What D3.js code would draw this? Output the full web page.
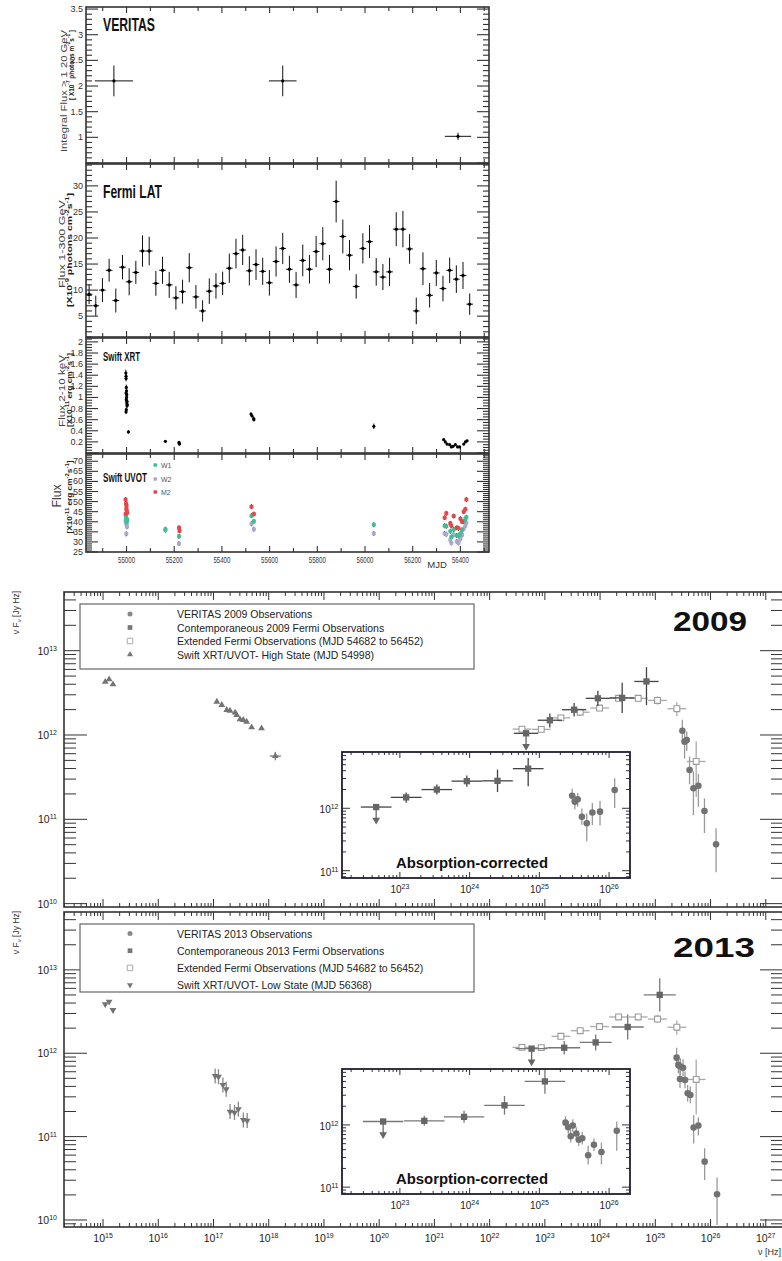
<!DOCTYPE html>
<html>
<head>
<meta charset="utf-8">
<script src="https://cdn.jsdelivr.net/npm/d3@7"></script>
<style>
  body { margin: 0; background: #fff; }
  svg { display: block; font-family: "Liberation Sans", Arial, sans-serif; }
  .narrow { font-family: "Liberation Sans Narrow", "Liberation Sans", sans-serif; }
</style>
</head>
<body>
<svg id="chart" width="782" height="1261"></svg>
<script>
// ---------------- light curve data (MJD) ----------------
const veritasLcMJD = [54947, 55655, 56390];
const veritasLcMJDErr = [80, 58, 55];
const veritasLcFlux = [2.1, 2.1, 1.02];
const veritasLcErr = [0.3, 0.3, 0.07];

const fermiLcMJD = [54843, 54871, 54899, 54927, 54955, 54983, 55011, 55039, 55067, 55095,
  55123, 55151, 55179, 55207, 55235, 55263, 55291, 55319, 55347, 55375,
  55403, 55431, 55459, 55487, 55515, 55543, 55571, 55599, 55627, 55655,
  55683, 55711, 55739, 55767, 55795, 55823, 55851, 55879, 55907, 55935,
  55963, 55991, 56019, 56047, 56075, 56103, 56131, 56159, 56187, 56215,
  56243, 56271, 56299, 56327, 56355, 56383, 56411, 56439];
const fermiLcFlux = [9.2, 7.0, 10.0, 13.8, 8.0, 14.4, 11.6, 13.4, 17.5, 17.5,
  11.3, 13.8, 11.0, 8.5, 9.7, 14.3, 8.7, 6.0, 9.8, 10.8,
  11.3, 14.2, 17.0, 17.7, 13.7, 14.9, 13.6, 11.4, 15.5, 18.0,
  14.0, 11.0, 15.7, 14.0, 17.4, 18.9, 14.0, 27.0, 20.3, 16.7,
  10.7, 18.0, 19.3, 13.5, 12.5, 13.5, 21.7, 21.7, 17.9, 6.0,
  14.1, 9.0, 13.3, 10.3, 13.8, 12.1, 12.8, 7.3];
const fermiLcErr = [1.9, 1.95, 2.3, 2.2, 2.3, 2.35, 2.6, 2.2, 3.0, 2.75,
  2.4, 2.6, 2.5, 2.25, 2.3, 2.8, 2.25, 2.05, 2.45, 2.45,
  2.25, 2.8, 2.85, 2.9, 2.8, 2.95, 2.6, 2.45, 2.9, 3.0,
  2.6, 2.5, 3.05, 2.75, 3.0, 3.2, 2.75, 4.0, 3.25, 2.9,
  2.35, 2.9, 3.15, 2.65, 2.5, 2.7, 3.25, 3.5, 2.85, 2.55,
  3.15, 2.35, 2.5, 2.45, 2.45, 2.65, 2.6, 2.05];
const fermiLcBinHalf = 14;

// [MJD, flux, err]
const xrtPoints = [
  [54997, 1.44, 0.06], [54998, 1.38, 0.06], [54998, 1.34, 0.05], [54999, 1.18, 0.05],
  [55000, 1.12, 0.05], [54998, 1.08, 0.05], [55001, 1.05, 0.05], [55000, 1.0, 0.05],
  [54999, 0.96, 0.05], [55002, 0.93, 0.04], [55001, 0.9, 0.04], [55003, 0.87, 0.04],
  [55002, 0.85, 0.04], [54999, 0.78, 0.04], [54998, 0.74, 0.04], [55008, 0.38, 0.03],
  [55163, 0.21, 0.02], [55220, 0.19, 0.02], [55222, 0.16, 0.02], [55221, 0.17, 0.02],
  [55522, 0.70, 0.03], [55526, 0.67, 0.03], [55533, 0.62, 0.04], [55534, 0.60, 0.03],
  [56037, 0.48, 0.05],
  [56330, 0.24, 0.02], [56337, 0.20, 0.02], [56344, 0.16, 0.02], [56355, 0.15, 0.02],
  [56362, 0.11, 0.02], [56369, 0.12, 0.02], [56379, 0.15, 0.02], [56388, 0.11, 0.02],
  [56397, 0.11, 0.02], [56414, 0.16, 0.02], [56421, 0.20, 0.02], [56428, 0.22, 0.02]
];

// [MJD, flux]
const uvotW1 = [
  [54996, 43.5], [54998, 42.5], [55000, 41.5], [54999, 40.5], [55001, 39.8], [55003, 41.0],
  [55163, 36.3], [55220, 32.8], [55524, 43.0], [55534, 40.2], [56037, 38.5],
  [56334, 38.0], [56341, 37.8], [56358, 35.3], [56362, 32.5], [56372, 36.2], [56385, 33.2],
  [56392, 33.0], [56400, 34.0], [56407, 36.0], [56414, 40.0], [56421, 41.5], [56425, 42.2]
];
const uvotW2 = [
  [54996, 40.5], [54998, 39.5], [55000, 38.5], [55002, 37.5], [54999, 34.0], [55001, 40.8],
  [55163, 35.8], [55220, 29.2], [55524, 39.0], [55534, 36.3], [56037, 34.2],
  [56334, 34.2], [56341, 33.8], [56358, 31.0], [56362, 29.5], [56372, 33.5], [56385, 30.2],
  [56392, 29.5], [56400, 31.5], [56407, 33.5], [56414, 36.5], [56421, 38.0], [56425, 39.5]
];
const uvotM2 = [
  [54996, 51.0], [54998, 49.0], [55000, 48.0], [54999, 46.5], [55001, 45.5], [55003, 44.5], [54997, 44.0],
  [55220, 37.0], [55222, 35.5], [55524, 47.5], [55534, 43.8],
  [56334, 42.0], [56341, 44.2], [56358, 39.2], [56362, 38.0], [56372, 42.8], [56385, 37.0],
  [56392, 36.8], [56400, 41.5], [56407, 40.0], [56414, 45.0], [56421, 46.2], [56425, 51.0]
];
const uvotErr = 1.2;

const mjdTickLabels = [55000, 55200, 55400, 55600, 55800, 56000, 56200, 56400];

// ---------------- SED data (log10 nu [Hz], log10 nuFnu [Jy Hz]) ----------------
const uvot09Nu = [15.04, 15.11, 15.18];
const uvot09F = [12.63, 12.66, 12.60];
const xrt09Nu = [17.06, 17.15, 17.24, 17.30, 17.39, 17.42, 17.48, 17.54, 17.60, 17.69, 17.87];
const xrt09F = [12.395, 12.356, 12.297, 12.288, 12.265, 12.237, 12.186, 12.178, 12.158, 12.091, 12.079];
const hardX09Nu = [18.12];
const hardX09F = [11.75];

const fermi09Nu = [22.66, 23.09, 23.53, 23.96, 24.40, 24.84];
const fermi09F = [12.02, 12.175, 12.30, 12.435, 12.44, 12.635];
const fermi09Hi = [0, 0.08, 0.08, 0.09, 0.18, 0.17];
const fermi09Lo = [0, 0.085, 0.08, 0.09, 0.18, 0.28];
const fermi09UL = [true, false, false, false, false, false];

const fermiExtNu = [22.585, 22.935, 23.29, 23.64, 23.99, 24.335, 24.69, 25.04, 25.39, 25.74];
const fermiExtF = [12.07, 12.067, 12.203, 12.27, 12.32, 12.435, 12.435, 12.41, 12.312, 11.686];
const fermiExtHi = [0.02, 0.02, 0.02, 0.02, 0.03, 0.03, 0.04, 0.05, 0.08, 0.24];
const fermiExtLo = [0.02, 0.02, 0.02, 0.02, 0.03, 0.03, 0.04, 0.05, 0.09, 0.42];

const veritas09Nu = [25.49, 25.53, 25.57, 25.62, 25.69, 25.78, 25.89, 26.10];
const veritas09F = [12.051, 11.921, 11.941, 11.585, 11.368, 11.399, 11.098, 10.703];
const veritas09Hi = [0.13, 0.1, 0.1, 0.16, 0.2, 0.14, 0.15, 0.19];
const veritas09Lo = [0.13, 0.2, 0.13, 0.17, 0.32, 0.25, 0.26, 0.33];

const veritas09CorrNu = [25.47, 25.51, 25.55, 25.61, 25.68, 25.76, 25.87, 26.08];
const veritas09CorrF = [12.202, 12.106, 12.144, 11.865, 11.76, 11.933, 11.946, 12.293];
const veritas09CorrHi = [0.11, 0.1, 0.1, 0.13, 0.16, 0.15, 0.17, 0.19];
const veritas09CorrLo = [0.11, 0.12, 0.12, 0.13, 0.29, 0.2, 0.22, 0.29];

const uvot13Nu = [15.04, 15.11, 15.18];
const uvot13F = [12.588, 12.619, 12.519];
const xrt13Nu = [17.03, 17.09, 17.17, 17.23, 17.30, 17.38, 17.45, 17.54, 17.61];
const xrt13F = [11.728, 11.719, 11.62, 11.568, 11.30, 11.288, 11.329, 11.2, 11.192];

const fermi13Nu = [22.76, 23.35, 23.92, 24.50, 25.08];
const fermi13F = [12.055, 12.066, 12.13, 12.315, 12.70];
const fermi13Hi = [0, 0.08, 0.096, 0.15, 0.2];
const fermi13Lo = [0, 0.08, 0.096, 0.15, 0.2];
const fermi13UL = [true, false, false, false, false];

const veritas13Nu = [25.386, 25.417, 25.453, 25.502, 25.447, 25.538, 25.585, 25.634, 25.694, 25.779, 25.893, 26.118];
const veritas13F = [11.947, 11.86, 11.84, 11.827, 11.692, 11.68, 11.52, 11.5, 11.108, 11.132, 10.70, 10.309];
const veritas13Hi = [0.12, 0.1, 0.1, 0.1, 0.11, 0.1, 0.1, 0.1, 0.15, 0.1, 0.16, 0.2];
const veritas13Lo = [0.12, 0.1, 0.1, 0.1, 0.11, 0.1, 0.1, 0.1, 0.19, 0.12, 0.22, 0.37];

const veritas13CorrNu = [25.375, 25.415, 25.48, 25.45, 25.53, 25.565, 25.615, 25.70, 25.783, 25.89, 26.11];
const veritas13CorrF = [12.037, 11.962, 11.99, 11.818, 11.862, 11.762, 11.785, 11.514, 11.681, 11.565, 11.905];
const veritas13CorrHi = [0.1, 0.1, 0.1, 0.1, 0.1, 0.1, 0.1, 0.15, 0.1, 0.15, 0.15];
const veritas13CorrLo = [0.1, 0.1, 0.1, 0.1, 0.1, 0.1, 0.1, 0.15, 0.1, 0.2, 0.32];

const legend09 = ["VERITAS 2009 Observations", "Contemporaneous 2009 Fermi Observations",
  "Extended Fermi Observations (MJD 54682 to 56452)", "Swift XRT/UVOT- High State (MJD 54998)"];
const legend13 = ["VERITAS 2013 Observations", "Contemporaneous 2013 Fermi Observations",
  "Extended Fermi Observations (MJD 54682 to 56452)", "Swift XRT/UVOT- Low State (MJD 56368)"];

// ---------------- helpers ----------------
const svg = d3.select("#chart");

// text with ^{sup} and _{sub} parts
function rich(t, str, small) {
  const parts = str.split(/(\^\{[^}]*\}|_\{[^}]*\})/).filter(p => p !== "");
  let shift = 0;
  parts.forEach(p => {
    let target = 0, txt = p, size = null;
    if (p.startsWith("^{")) { target = -small * 0.55; txt = p.slice(2, -1); size = small; }
    else if (p.startsWith("_{")) { target = small * 0.35; txt = p.slice(2, -1); size = small; }
    const ts = t.append("tspan").attr("dy", target - shift).text(txt);
    if (size) ts.attr("font-size", size);
    shift = target;
  });
  return t;
}

// squeeze a text horizontally to a given width (condensed look)
function squeeze(t, x, y, w, extra) {
  const n = t.node().getComputedTextLength();
  t.attr("x", 0).attr("y", 0)
    .attr("transform", `translate(${x},${y})${extra || ""} scale(${w / n},1)`);
}

function stepVals(lo, hi, step) {
  return d3.range(Math.ceil(lo / step - 1e-6), Math.floor(hi / step + 1e-6) + 1)
    .map(i => +(i * step).toFixed(6));
}

// ---------------- light curves ----------------
const xMJD = d3.scaleLinear().domain([54830, 56520]).range([86, 489]);

const lcPanels = [
  {top: 7, bottom: 163, domain: [0.5, 3.54], major: 0.5, minor: 0.1, labels: [1, 1.5, 2, 2.5, 3, 3.5]},
  {top: 164, bottom: 337, domain: [1, 34.2], major: 5, minor: 1, labels: [5, 10, 15, 20, 25, 30]},
  {top: 338, bottom: 453, domain: [0, 2.07], major: 0.2, minor: 0.05, labels: stepVals(0.2, 2, 0.2)},
  {top: 454, bottom: 552, domain: [25, 73.6], major: 5, minor: 1, labels: stepVals(25, 70, 5)}
];
lcPanels.forEach(p => { p.y = d3.scaleLinear().domain(p.domain).range([p.bottom, p.top]); });

lcPanels.forEach(p => {
  const g = svg.append("g");
  const [x0, x1] = xMJD.range();
  const tk = g.append("g").attr("stroke", "#333").attr("stroke-width", 1.1);
  stepVals(p.domain[0], p.domain[1], p.minor).forEach(v => {
    const isMajor = Math.abs(v / p.major - Math.round(v / p.major)) < 1e-6;
    const len = isMajor ? 12 : 6;
    tk.append("line").attr("x1", x0).attr("x2", x0 + len).attr("y1", p.y(v)).attr("y2", p.y(v));
    tk.append("line").attr("x1", x1).attr("x2", x1 - len).attr("y1", p.y(v)).attr("y2", p.y(v));
  });
  stepVals(54830, 56520, 100).forEach(v => {
    const len = v % 200 === 0 ? 6 : 4;
    tk.append("line").attr("x1", xMJD(v)).attr("x2", xMJD(v)).attr("y1", p.bottom).attr("y2", p.bottom - len);
    tk.append("line").attr("x1", xMJD(v)).attr("x2", xMJD(v)).attr("y1", p.top).attr("y2", p.top + len);
  });
  g.append("rect").attr("x", x0).attr("y", p.top).attr("width", x1 - x0).attr("height", p.bottom - p.top)
    .attr("fill", "none").attr("stroke", "#333").attr("stroke-width", 1.6);
  g.append("g").attr("class", "narrow").attr("font-size", 9).attr("fill", "#333")
    .selectAll("text").data(p.labels).join("text")
    .attr("x", 83).attr("y", d => p.y(d) + 3).attr("text-anchor", "end")
    .text(d => d3.format("~g")(d));
});

// y titles of light curves
const lcTitles = [
  {x: 66.5, yc: 91, len: 122, text: "Integral Flux > 1 20 GeV", x2: 73.5, yc2: 65, len2: 70, text2: "[ X10^{-7} photons m^{-2}s^{-1} ]"},
  {x: 65, yc: 244, len: 88, text: "Flux 1-300 GeV", x2: 72, yc2: 250, len2: 114, text2: "[X10^{-9} photons cm^{-2}s^{-1}]"},
  {x: 65, yc: 391, len: 72, text: "Flux 2-10 keV", x2: 72, yc2: 390, len2: 74, text2: "[X10^{-11} erg cm^{-2}s^{-1}]"},
  {x: 61, yc: 496, len: 23, text: "Flux", x2: 72, yc2: 497, len2: 73, text2: "[X10^{-11} erg cm^{-2}s^{-1}]", big: true}
];
lcTitles.forEach(t => {
  const a = svg.append("text").attr("transform", `translate(${t.x},${t.yc}) rotate(-90)`)
    .attr("text-anchor", "middle").attr("font-size", t.big ? 13 : 9.5).attr("fill", "#444")
    .attr("textLength", t.len).attr("lengthAdjust", "spacingAndGlyphs");
  a.text(t.text);
  const b = svg.append("text").attr("transform", `translate(${t.x2},${t.yc2}) rotate(-90)`)
    .attr("text-anchor", "middle").attr("font-size", 7.5).attr("font-weight", "bold").attr("fill", "#222")
    .attr("textLength", t.len2).attr("lengthAdjust", "spacingAndGlyphs");
  rich(b, t.text2, 5.5);
});

// panel names
[["VERITAS", 31, 18, 52], ["Fermi LAT", 198, 18, 59], ["Swift XRT", 361, 13.5, 37], ["Swift UVOT", 482, 13.5, 44]]
  .forEach(([txt, yb, fs, len]) => {
    const t = svg.append("text").attr("class", "narrow")
      .attr("font-size", fs).attr("font-weight", "bold").attr("fill", "#111").text(txt);
    squeeze(t, 103, yb, len);
  });

// VERITAS light curve
{
  const p = lcPanels[0];
  const pts = veritasLcMJD.map((m, i) => ({m, ex: veritasLcMJDErr[i], f: veritasLcFlux[i], e: veritasLcErr[i]}));
  const g = svg.append("g").attr("stroke", "#111").attr("stroke-width", 1);
  g.selectAll(".ex").data(pts).join("line").attr("class", "ex")
    .attr("x1", d => xMJD(d.m - d.ex)).attr("x2", d => xMJD(d.m + d.ex))
    .attr("y1", d => p.y(d.f)).attr("y2", d => p.y(d.f));
  g.selectAll(".ey").data(pts).join("line").attr("class", "ey")
    .attr("x1", d => xMJD(d.m)).attr("x2", d => xMJD(d.m))
    .attr("y1", d => p.y(d.f - d.e)).attr("y2", d => p.y(d.f + d.e));
  svg.append("g").selectAll("circle").data(pts).join("circle")
    .attr("cx", d => xMJD(d.m)).attr("cy", d => p.y(d.f)).attr("r", 1.6).attr("fill", "#000");
}

// Fermi light curve
{
  const p = lcPanels[1];
  const pts = fermiLcMJD.map((m, i) => ({m, f: fermiLcFlux[i], e: fermiLcErr[i]}));
  const g = svg.append("g").attr("stroke", "#111").attr("stroke-width", 1);
  g.selectAll(".ex").data(pts).join("line").attr("class", "ex")
    .attr("x1", d => xMJD(d.m - fermiLcBinHalf)).attr("x2", d => xMJD(d.m + fermiLcBinHalf))
    .attr("y1", d => p.y(d.f)).attr("y2", d => p.y(d.f));
  g.selectAll(".ey").data(pts).join("line").attr("class", "ey")
    .attr("x1", d => xMJD(d.m)).attr("x2", d => xMJD(d.m))
    .attr("y1", d => p.y(d.f - d.e)).attr("y2", d => p.y(d.f + d.e));
  svg.append("g").selectAll("circle").data(pts).join("circle")
    .attr("cx", d => xMJD(d.m)).attr("cy", d => p.y(d.f)).attr("r", 1.7).attr("fill", "#000");
}

// Swift XRT light curve
{
  const p = lcPanels[2];
  const g = svg.append("g").attr("stroke", "#111").attr("stroke-width", 1);
  g.selectAll("line").data(xrtPoints).join("line")
    .attr("x1", d => xMJD(d[0])).attr("x2", d => xMJD(d[0]))
    .attr("y1", d => p.y(d[1] - d[2])).attr("y2", d => p.y(d[1] + d[2]));
  svg.append("g").selectAll("circle").data(xrtPoints).join("circle")
    .attr("cx", d => xMJD(d[0])).attr("cy", d => p.y(d[1])).attr("r", 1.6).attr("fill", "#000");
}

// Swift UVOT light curve
{
  const p = lcPanels[3];
  const series = [
    {data: uvotW2, color: "#a9a9cf"},
    {data: uvotW1, color: "#3fbf93"},
    {data: uvotM2, color: "#e4474b"}
  ];
  series.forEach(s => {
    svg.append("g").attr("stroke", "#111").attr("stroke-width", 1)
      .selectAll("line").data(s.data).join("line")
      .attr("x1", d => xMJD(d[0])).attr("x2", d => xMJD(d[0]))
      .attr("y1", d => p.y(d[1] - uvotErr)).attr("y2", d => p.y(d[1] + uvotErr));
  });
  series.forEach(s => {
    svg.append("g").selectAll("rect").data(s.data).join("rect")
      .attr("x", d => xMJD(d[0]) - 2).attr("y", d => p.y(d[1]) - 2)
      .attr("width", 4).attr("height", 4).attr("rx", 1.2).attr("fill", s.color);
  });
  const leg = [["W1", "#3fbf93", 465], ["W2", "#a9a9cf", 479], ["M2", "#e4474b", 492]];
  leg.forEach(([n, c, yy]) => {
    svg.append("rect").attr("x", 153.5).attr("y", yy - 1.8).attr("width", 3.6).attr("height", 3.6)
      .attr("rx", 1).attr("fill", c);
    svg.append("text").attr("class", "narrow").attr("x", 161).attr("y", yy + 2.5)
      .attr("font-size", 7).attr("fill", "#555").text(n);
  });
  svg.append("g").attr("class", "narrow").attr("font-size", 9.5).attr("fill", "#333")
    .selectAll("text").data(mjdTickLabels).join("text")
    .attr("x", d => xMJD(d)).attr("y", 563).attr("text-anchor", "middle")
    .attr("textLength", 17).attr("lengthAdjust", "spacingAndGlyphs").text(d => d);
  svg.append("text").attr("class", "narrow").attr("x", 437).attr("y", 568)
    .attr("text-anchor", "middle").attr("font-size", 9.5).attr("fill", "#333").text("MJD");
}

// ---------------- SED panels ----------------
function logTickVals(lo, hi) {
  const major = [], minor = [];
  for (let d = Math.floor(lo); d <= Math.ceil(hi); d++) {
    if (d >= lo && d <= hi) major.push(d);
    for (let k = 2; k <= 9; k++) {
      const v = d + Math.log10(k);
      if (v >= lo && v <= hi) minor.push(v);
    }
  }
  return {major, minor};
}

function logFrame(g, x, y, o) {
  const [x0, x1] = x.range(), [yb, yt] = y.range();
  const xd = x.domain().map(Math.log10), yd = y.domain().map(Math.log10);
  const xt = logTickVals(xd[0], xd[1]), ytk = logTickVals(yd[0], yd[1]);
  const tk = g.append("g").attr("stroke", "#333").attr("stroke-width", 1);
  [[xt.major, o.xMaj], [xt.minor, o.xMin]].forEach(([vals, len]) => {
    vals.forEach(v => {
      const px = x(10 ** v);
      tk.append("line").attr("x1", px).attr("x2", px).attr("y1", yb).attr("y2", yb - len);
      tk.append("line").attr("x1", px).attr("x2", px).attr("y1", yt).attr("y2", yt + len);
    });
  });
  [[ytk.major, o.yMaj], [ytk.minor, o.yMin]].forEach(([vals, len]) => {
    vals.forEach(v => {
      const py = y(10 ** v);
      tk.append("line").attr("x1", x0).attr("x2", x0 + len).attr("y1", py).attr("y2", py);
      tk.append("line").attr("x1", x1).attr("x2", x1 - len).attr("y1", py).attr("y2", py);
    });
  });
  g.append("rect").attr("x", x0).attr("y", yt).attr("width", x1 - x0).attr("height", yb - yt)
    .attr("fill", "none").attr("stroke", o.frame || "#333").attr("stroke-width", o.frameW || 1.6);
  ytk.major.forEach(v => {
    const t = g.append("text").attr("x", o.yLabX).attr("y", y(10 ** v) + o.yLabDy)
      .attr("text-anchor", "end").attr("font-size", o.labFs).attr("fill", "#222");
    rich(t, "10^{" + v + "}", o.supFs);
  });
  if (o.xLabY) {
    xt.major.forEach(v => {
      const t = g.append("text").attr("x", x(10 ** v)).attr("y", o.xLabY)
        .attr("text-anchor", "middle").attr("font-size", o.labFs).attr("fill", "#222");
      rich(t, "10^{" + v + "}", o.supFs);
    });
  }
}

function drawSeries(g, x, y, s) {
  const pts = s.nu.map((n, i) => ({
    n, f: s.f[i],
    ex: Array.isArray(s.nuErr) ? s.nuErr[i] : (s.nuErr || 0),
    hi: s.hi ? s.hi[i] : (s.err || 0), lo: s.lo ? s.lo[i] : (s.err || 0),
    ul: s.ul ? s.ul[i] : false
  }));
  const eg = g.append("g").attr("stroke", s.errColor).attr("stroke-width", 1.3);
  eg.selectAll(".ex").data(pts.filter(d => d.ex > 0)).join("line").attr("class", "ex")
    .attr("x1", d => x(10 ** (d.n - d.ex))).attr("x2", d => x(10 ** (d.n + d.ex)))
    .attr("y1", d => y(10 ** d.f)).attr("y2", d => y(10 ** d.f));
  eg.selectAll(".ey").data(pts.filter(d => d.hi + d.lo > 0)).join("line").attr("class", "ey")
    .attr("x1", d => x(10 ** d.n)).attr("x2", d => x(10 ** d.n))
    .attr("y1", d => y(10 ** (d.f - d.lo))).attr("y2", d => y(10 ** (d.f + d.hi)));
  const ul = pts.filter(d => d.ul);
  g.append("g").attr("stroke", s.fill).attr("stroke-width", 1.3)
    .selectAll("line").data(ul).join("line")
    .attr("x1", d => x(10 ** d.n)).attr("x2", d => x(10 ** d.n))
    .attr("y1", d => y(10 ** d.f)).attr("y2", d => y(10 ** d.f) + 13);
  g.append("g").selectAll("path").data(ul).join("path")
    .attr("transform", d => `translate(${x(10 ** d.n)},${y(10 ** d.f) + 13}) rotate(180)`)
    .attr("d", d3.symbol(d3.symbolTriangle, 26)).attr("fill", s.fill);
  g.append("g").selectAll("path").data(pts).join("path")
    .attr("transform", d => `translate(${x(10 ** d.n)},${y(10 ** d.f)})${s.down ? " rotate(180)" : ""}`)
    .attr("d", d3.symbol(s.symbol, s.size))
    .attr("fill", s.open ? "#fff" : s.fill)
    .attr("stroke", s.open ? s.fill : "none").attr("stroke-width", 1.1);
}

const sedX = d3.scaleLog().domain([10 ** 14.293, 10 ** 27.312]).range([64, 783]);
const insetX = d3.scaleLog().domain([10 ** 22.17, 10 ** 26.3]).range([342, 630]);

const colVer = "#727272", colFermi = "#666", colExt = "#9a9a9a", colSwift = "#747474";

function sedPanel(c) {
  const g = svg.append("g");
  const y = d3.scaleLog().domain([10 ** c.yLo, 10 ** c.yHi]).range([c.bottom, c.top]);
  logFrame(g, sedX, y, {xMaj: 8, xMin: 4, yMaj: 23, yMin: 12, yLabX: 57, yLabDy: 4,
    labFs: 10.5, supFs: 7, xLabY: c.xLabels ? 1242 : null});

  const yt = g.append("text").attr("transform", `translate(19,${c.top - 1}) rotate(-90)`)
    .attr("text-anchor", "end").attr("font-size", 8.5).attr("fill", "#333");
  rich(yt, "ν F_{ν} [Jy Hz]", 6);

  // legend
  const lg = g.append("g");
  lg.append("rect").attr("x", 80).attr("y", c.legTop).attr("width", 394).attr("height", c.legH)
    .attr("fill", "#fff").attr("stroke", "#666").attr("stroke-width", 1.2);
  const syms = [
    {symbol: d3.symbolCircle, size: 20, fill: "#888"},
    {symbol: d3.symbolSquare, size: 22, fill: "#777"},
    {symbol: d3.symbolSquare, size: 30, fill: "#aaa", open: true},
    {symbol: d3.symbolTriangle, size: 16, fill: "#777", down: c.down}
  ];
  c.legend.forEach((txt, i) => {
    const yy = c.legTop + c.legRow0 + i * c.legStep;
    const s = syms[i];
    lg.append("path").attr("transform", `translate(130,${yy})${s.down ? " rotate(180)" : ""}`)
      .attr("d", d3.symbol(s.symbol, s.size)).attr("fill", s.open ? "#fff" : s.fill)
      .attr("stroke", s.open ? s.fill : "none");
    lg.append("text").attr("x", 177).attr("y", yy + 4).attr("font-size", 10.5).attr("fill", "#222").text(txt);
  });

  const yr = g.append("text").attr("font-size", 28).attr("font-weight", "bold").attr("fill", "#111").text(c.year);
  squeeze(yr, c.yearX, c.yearY, c.yearLen);

  // data
  drawSeries(g, sedX, y, {nu: c.uvNu, f: c.uvF, symbol: d3.symbolTriangle, size: 20, fill: colSwift, down: c.down, errColor: "#888"});
  drawSeries(g, sedX, y, {nu: c.xNu, f: c.xF, symbol: d3.symbolTriangle, size: 20, fill: colSwift, down: c.down,
    errColor: "#888", err: c.xErr});
  if (c.hardNu) drawSeries(g, sedX, y, {nu: c.hardNu, f: c.hardF, nuErr: 0.1, err: 0.05,
    symbol: d3.symbolTriangle, size: 20, fill: colSwift, errColor: "#777"});
  drawSeries(g, sedX, y, {nu: fermiExtNu, f: fermiExtF, hi: fermiExtHi, lo: fermiExtLo, nuErr: 0.17,
    symbol: d3.symbolSquare, size: 34, fill: colExt, open: true, errColor: "#aaa"});
  drawSeries(g, sedX, y, {nu: c.fNu, f: c.fF, hi: c.fHi, lo: c.fLo, ul: c.fUL, nuErr: c.fNuErr,
    symbol: d3.symbolSquare, size: 40, fill: colFermi, errColor: c.fErrColor});
  drawSeries(g, sedX, y, {nu: c.vNu, f: c.vF, hi: c.vHi, lo: c.vLo,
    symbol: d3.symbolCircle, size: 34, fill: colVer, errColor: "#999"});

  // inset
  const ig = svg.append("g");
  const iy = d3.scaleLog().domain([10 ** c.inLo, 10 ** c.inHi]).range([c.inBottom, c.inTop]);
  ig.append("rect").attr("x", 342).attr("y", c.inTop).attr("width", 288).attr("height", c.inBottom - c.inTop)
    .attr("fill", "#fff");
  drawSeries(ig, insetX, iy, {nu: c.fNu, f: c.fF, hi: c.fHi, lo: c.fLo, ul: c.fUL, nuErr: c.fNuErr,
    symbol: d3.symbolSquare, size: 40, fill: colFermi, errColor: c.fErrColor});
  drawSeries(ig, insetX, iy, {nu: c.cNu, f: c.cF, hi: c.cHi, lo: c.cLo,
    symbol: d3.symbolCircle, size: 34, fill: colVer, errColor: "#999"});
  logFrame(ig, insetX, iy, {xMaj: 6, xMin: 3, yMaj: 8, yMin: 4, yLabX: 338.5, yLabDy: 5,
    labFs: 10, supFs: 7, xLabY: c.inBottom + 14.5, frame: "#1e1e32", frameW: 1.8});
  const ab = ig.append("text").attr("font-size", 14).attr("font-weight", "bold").attr("fill", "#111")
    .text("Absorption-corrected");
  squeeze(ab, 396, c.inBottom - 10, 152);
}

sedPanel({
  top: 592, bottom: 907, yLo: 9.96, yHi: 13.696, xLabels: false, down: false,
  legTop: 604, legH: 65, legRow0: 10, legStep: 13.5, legend: legend09,
  year: "2009", yearX: 673, yearY: 631, yearLen: 74,
  uvNu: uvot09Nu, uvF: uvot09F, xNu: xrt09Nu, xF: xrt09F, xErr: 0.015, hardNu: hardX09Nu, hardF: hardX09F,
  fNu: fermi09Nu, fF: fermi09F, fHi: fermi09Hi, fLo: fermi09Lo, fUL: fermi09UL, fNuErr: 0.22, fErrColor: "#444",
  vNu: veritas09Nu, vF: veritas09F, vHi: veritas09Hi, vLo: veritas09Lo,
  inTop: 752, inBottom: 878, inLo: 10.883, inHi: 12.902,
  cNu: veritas09CorrNu, cF: veritas09CorrF, cHi: veritas09CorrHi, cLo: veritas09CorrLo
});

sedPanel({
  top: 912, bottom: 1227, yLo: 9.916, yHi: 13.694, xLabels: true, down: true,
  legTop: 924, legH: 68, legRow0: 9.5, legStep: 17.2, legend: legend13,
  year: "2013", yearX: 673, yearY: 957, yearLen: 82,
  uvNu: uvot13Nu, uvF: uvot13F, xNu: xrt13Nu, xF: xrt13F, xErr: 0.09,
  fNu: fermi13Nu, fF: fermi13F, fHi: fermi13Hi, fLo: fermi13Lo, fUL: fermi13UL, fNuErr: 0.29, fErrColor: "#777",
  vNu: veritas13Nu, vF: veritas13F, vHi: veritas13Hi, vLo: veritas13Lo,
  inTop: 1069, inBottom: 1194, inLo: 10.89, inHi: 12.899,
  cNu: veritas13CorrNu, cF: veritas13CorrF, cHi: veritas13CorrHi, cLo: veritas13CorrLo
});

const xt = svg.append("text").attr("x", 781).attr("y", 1255).attr("text-anchor", "end")
  .attr("font-size", 9).attr("fill", "#333");
rich(xt, "ν [Hz]", 6);
</script>
</body>
</html>
